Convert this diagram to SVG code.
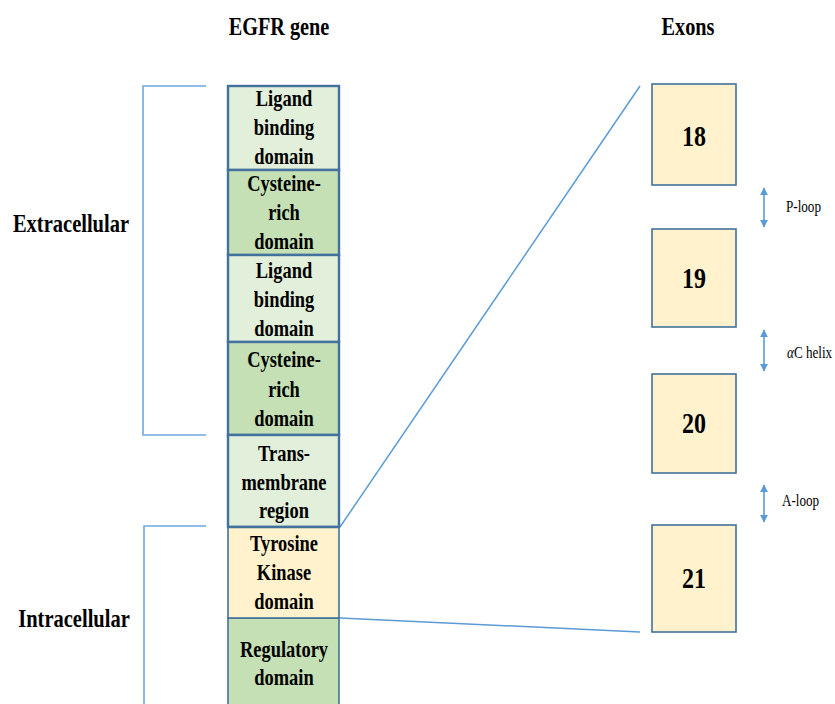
<svg xmlns="http://www.w3.org/2000/svg" width="835" height="704" viewBox="0 0 835 704">
  <style>
    .t { font-weight: bold; fill: #000; text-anchor: middle; }
    .dom { font-size: 22.5px; }
    .hdr { font-size: 25px; }
    .num { font-size: 30px; }
    .small { font-size: 16px; fill: #000; }
    .light { fill: #E2EFDA; stroke: #41719C; stroke-width: 2.4; }
    .dark { fill: #C5E0B4; stroke: #41719C; stroke-width: 2.4; }
    .tan { fill: #FFF2CC; stroke: #41719C; stroke-width: 1.6; }
    .wire { fill: none; stroke: #5B9BD5; stroke-width: 1.5; }
    .brk { fill: none; stroke: #6FA8DC; stroke-width: 1.6; }
    .dbl { stroke: #5B9BD5; stroke-width: 1.6; marker-start: url(#head); marker-end: url(#head); }
  </style>
  <defs>
    <marker id="head" viewBox="0 0 10 10" refX="9" refY="5" markerWidth="5" markerHeight="5" orient="auto-start-reverse" markerUnits="strokeWidth">
      <path d="M0,0 L10,5 L0,10 z" fill="#5B9BD5"/>
    </marker>
  </defs>
  <rect width="835" height="704" fill="#fff"/>

  <g font-family="Liberation Serif, Times New Roman, serif">
  <!-- column headers -->
  <g id="header-gene"><text class="t hdr" transform="translate(279,35) scale(0.81,1)">EGFR gene</text></g>
  <g id="header-exons"><text class="t hdr" transform="translate(688,35) scale(0.81,1)">Exons</text></g>

  <!-- region labels -->
  <g id="label-extracellular"><text class="t hdr" transform="translate(71,232) scale(0.82,1)">Extracellular</text></g>
  <g id="label-intracellular"><text class="t hdr" transform="translate(74,627) scale(0.82,1)">Intracellular</text></g>

  <!-- connectors: brackets and zoom lines -->
  <g id="connectors">
    <path class="brk" d="M206,86 H143 V435 H206"/>
    <path class="brk" d="M206,526 H144 V704"/>
    <line class="wire" x1="340" y1="527" x2="640" y2="86"/>
    <line class="wire" x1="340" y1="618" x2="640" y2="632"/>
    <line class="dbl" x1="764" y1="188" x2="764" y2="227"/>
    <line class="dbl" x1="764" y1="330" x2="764" y2="371"/>
    <line class="dbl" x1="764" y1="485" x2="764" y2="522"/>
  </g>

  <!-- EGFR domains -->
  <g id="ligand-binding-1">
    <rect class="light" x="228" y="86" width="111" height="84"/>
    <text class="t dom" transform="translate(284,0) scale(0.82,1)"><tspan x="0" y="106">Ligand</tspan><tspan x="0" y="135">binding</tspan><tspan x="0" y="164">domain</tspan></text>
  </g>
  <g id="cysteine-rich-1">
    <rect class="dark" x="228" y="170" width="111" height="85"/>
    <text class="t dom" transform="translate(284,0) scale(0.82,1)"><tspan x="0" y="191">Cysteine-</tspan><tspan x="0" y="220">rich</tspan><tspan x="0" y="249">domain</tspan></text>
  </g>
  <g id="ligand-binding-2">
    <rect class="light" x="228" y="255" width="111" height="87"/>
    <text class="t dom" transform="translate(284,0) scale(0.82,1)"><tspan x="0" y="278">Ligand</tspan><tspan x="0" y="307">binding</tspan><tspan x="0" y="336">domain</tspan></text>
  </g>
  <g id="cysteine-rich-2">
    <rect class="dark" x="228" y="342" width="111" height="93"/>
    <text class="t dom" transform="translate(284,0) scale(0.82,1)"><tspan x="0" y="367">Cysteine-</tspan><tspan x="0" y="397">rich</tspan><tspan x="0" y="426">domain</tspan></text>
  </g>
  <g id="transmembrane">
    <rect class="light" x="228" y="435" width="111" height="92"/>
    <text class="t dom" transform="translate(284,0) scale(0.82,1)"><tspan x="0" y="461">Trans-</tspan><tspan x="0" y="490">membrane</tspan><tspan x="0" y="518">region</tspan></text>
  </g>
  <g id="regulatory">
    <rect class="dark" x="228" y="618" width="111" height="100" style="stroke-width:1.6"/>
    <text class="t dom" transform="translate(284,0) scale(0.82,1)"><tspan x="0" y="657">Regulatory</tspan><tspan x="0" y="685">domain</tspan></text>
  </g>
  <g id="tyrosine-kinase">
    <rect x="228" y="527" width="111" height="91" fill="#FFF2CC" stroke="#41719C" stroke-width="1.6"/>
    <line x1="228" y1="527" x2="339" y2="527" stroke="#41719C" stroke-width="2.6"/>
    <text class="t dom" transform="translate(284,0) scale(0.82,1)"><tspan x="0" y="551">Tyrosine</tspan><tspan x="0" y="580">Kinase</tspan><tspan x="0" y="609">domain</tspan></text>
  </g>

  <!-- exons -->
  <g id="exon-18">
    <rect class="tan" x="652" y="84" width="84" height="101"/>
    <text class="t num" transform="translate(694,146) scale(0.8,1)">18</text>
  </g>
  <g id="exon-19">
    <rect class="tan" x="652" y="229" width="84" height="98"/>
    <text class="t num" transform="translate(694,288) scale(0.8,1)">19</text>
  </g>
  <g id="exon-20">
    <rect class="tan" x="652" y="374" width="84" height="99"/>
    <text class="t num" transform="translate(694,433) scale(0.8,1)">20</text>
  </g>
  <g id="exon-21">
    <rect class="tan" x="652" y="525" width="84" height="107"/>
    <text class="t num" transform="translate(694,588) scale(0.8,1)">21</text>
  </g>

  <!-- structural loop labels -->
  <g id="label-ploop"><text class="small" transform="translate(786,212) scale(0.82,1)">P-loop</text></g>
  <g id="label-achelix"><text class="small" transform="translate(787,358) scale(0.82,1)"><tspan font-style="italic">α</tspan>C helix</text></g>
  <g id="label-aloop"><text class="small" transform="translate(782,506) scale(0.82,1)">A-loop</text></g>
  </g>
</svg>
